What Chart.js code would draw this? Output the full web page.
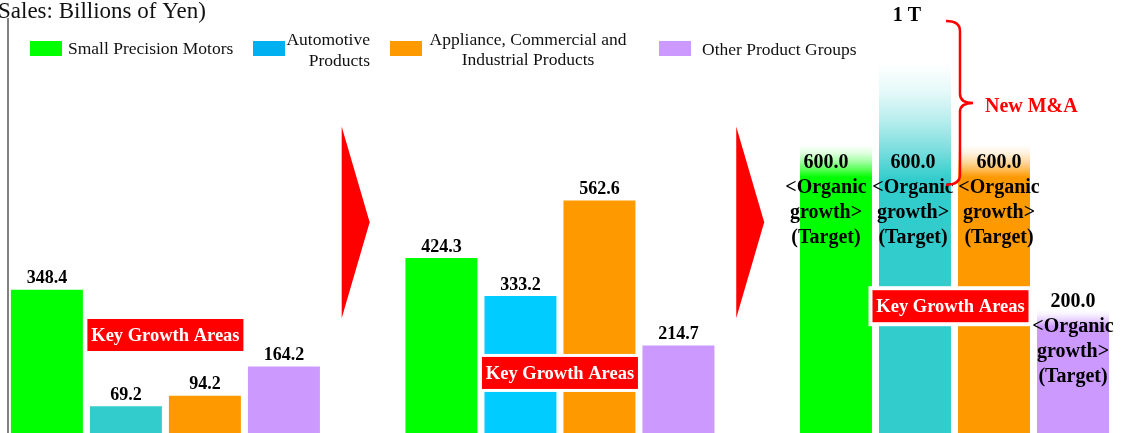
<!DOCTYPE html>
<html>
<head>
<meta charset="utf-8">
<script src="https://cdn.jsdelivr.net/npm/chart.js@4.4.1/dist/chart.umd.min.js"></script>
<style>
  html, body { margin: 0; padding: 0; background: #fff; }
  #wrap { width: 1123px; height: 433px; position: relative; }
</style>
</head>
<body>
<div id="wrap"><canvas id="chart"></canvas></div>
<script>
// Net sales per product group, billions of yen (actual -> plan -> organic target)
const periods = ['Actual', 'Plan', 'Target'];
const seriesNames = ['Small Precision Motors', 'Automotive Products', 'Appliance, Commercial and Industrial Products', 'Other Product Groups'];
const legendLines = [['Small Precision Motors'], ['Automotive', 'Products'], ['Appliance, Commercial and', 'Industrial Products'], ['Other Product Groups']];
const smallMotors = [348.4, 424.3, 600.0];
const automotive = [69.2, 333.2, 600.0];
const appliance = [94.2, 562.6, 600.0];
const otherGroups = [164.2, 214.7, 200.0];
const targetNote = ['<Organic', 'growth>', '(Target)'];
const goalLabel = '1 T';
const goalValue = 1000;
const mnaLabel = 'New M&A';
const calloutText = 'Key Growth Areas';
const axisTitle = '(Net Sales: Billions of Yen)';

const SERIF = '"Liberation Serif", "Times New Roman", serif';
const GREEN = '#00FF00', TEAL = '#33CCCC', SKY = '#00CCFF', ORANGE = '#FF9900', PURPLE = '#CC99FF', RED = '#FF0000';

function rgba(hex, a) {
  const n = parseInt(hex.slice(1), 16);
  return 'rgba(' + (n >> 16) + ',' + ((n >> 8) & 255) + ',' + (n & 255) + ',' + a + ')';
}

function barColor(ds, i) {
  return Array.isArray(ds.backgroundColor) ? ds.backgroundColor[i] : ds.backgroundColor;
}

// faded extension on top of the target bars
const fadePlugin = {
  id: 'fade',
  beforeDatasetsDraw(chart) {
    const ctx = chart.ctx, y = chart.scales.y;
    chart.data.datasets.forEach((ds, d) => {
      const el = chart.getDatasetMeta(d).data[2];
      if (!el || !ds.fadeTo) return;
      const yTop = y.getPixelForValue(ds.fadeTo);
      const yBase = el.y + 0.5;
      const col = barColor(ds, 2);
      const g = ctx.createLinearGradient(0, yBase, 0, yTop);
      const s = ds.fadeSolid;
      g.addColorStop(0, rgba(col, 1));
      g.addColorStop(s, rgba(col, 1));
      [0.25, 0.5, 0.75].forEach(t => g.addColorStop(s + (1 - s) * t, rgba(col, Math.pow(1 - t, 1.5))));
      g.addColorStop(1, rgba(col, 0));
      ctx.save();
      ctx.fillStyle = g;
      ctx.fillRect(el.x - el.width / 2, yTop, el.width, yBase - yTop);
      ctx.restore();
    });
  }
};

const decorPlugin = {
  id: 'decor',
  afterDatasetsDraw(chart) {
    const ctx = chart.ctx, xs = chart.scales.x, ys = chart.scales.y, area = chart.chartArea;
    ctx.save();

    // axis line
    ctx.strokeStyle = '#595959';
    ctx.lineWidth = 1.5;
    ctx.beginPath();
    ctx.moveTo(8, area.top);
    ctx.lineTo(8, area.bottom);
    ctx.stroke();

    // axis title, cut by the left edge
    ctx.font = '23px ' + SERIF;
    ctx.fillStyle = '#111';
    ctx.textBaseline = 'middle';
    ctx.textAlign = 'left';
    ctx.fillText(axisTitle, -2 - ctx.measureText('(Net ').width, 12);

    // legend
    const boxX = [30, 253, 390, 659];
    ctx.font = '17.5px ' + SERIF;
    chart.data.datasets.forEach((ds, d) => {
      ctx.fillStyle = ds.legendColor;
      ctx.fillRect(boxX[d], 41, 32, 15);
    });
    ctx.fillStyle = '#111';
    ctx.textAlign = 'left';
    ctx.fillText(legendLines[0][0], 68, 49);
    ctx.textAlign = 'right';
    ctx.fillText(legendLines[1][0], 370, 40);
    ctx.fillText(legendLines[1][1], 370, 61);
    ctx.textAlign = 'center';
    ctx.fillText(legendLines[2][0], 528, 40);
    ctx.fillText(legendLines[2][1], 528, 60);
    ctx.textAlign = 'left';
    ctx.fillText(legendLines[3][0], 702, 50);

    // arrows between periods
    ctx.fillStyle = RED;
    [0.5, 1.5].forEach(k => {
      const xc = xs.getPixelForValue(k);
      ctx.beginPath();
      ctx.moveTo(xc - 21, ys.getPixelForValue(740));
      ctx.lineTo(xc + 7, ys.getPixelForValue(510));
      ctx.lineTo(xc - 21, ys.getPixelForValue(280));
      ctx.closePath();
      ctx.fill();
    });

    // value labels
    ctx.fillStyle = '#000';
    ctx.textAlign = 'center';
    chart.data.datasets.forEach((ds, d) => {
      const meta = chart.getDatasetMeta(d);
      meta.data.forEach((el, i) => {
        const v = ds.data[i].toFixed(1);
        if (i < 2) {
          ctx.font = 'bold 18px ' + SERIF;
          ctx.fillText(v, el.x, el.y - 11);
        } else {
          ctx.font = 'bold 20px ' + SERIF;
          [v].concat(targetNote).forEach((line, j) => {
            ctx.fillText(line, el.x + ds.noteShift, el.y - ds.noteLift + j * 25);
          });
        }
      });
    });

    // "Key Growth Areas" callouts
    const callouts = [{ p: 0, level: 240, border: 0, dx: 0 }, { p: 1, level: 149, border: 3, dx: 0 }, { p: 2, level: 309, border: 4, dx: -4 }];
    callouts.forEach(c => {
      const a = chart.getDatasetMeta(1).data[c.p], b = chart.getDatasetMeta(2).data[c.p];
      const cx = (a.x + b.x) / 2 + c.dx, cy = ys.getPixelForValue(c.level);
      const w = 156, h = 32;
      if (c.border) {
        ctx.fillStyle = '#fff';
        ctx.fillRect(cx - w / 2 - c.border, cy - h / 2 - c.border, w + 2 * c.border, h + 2 * c.border);
      }
      ctx.fillStyle = RED;
      ctx.fillRect(cx - w / 2, cy - h / 2, w, h);
      ctx.fillStyle = '#fff';
      ctx.font = 'bold 18.5px ' + SERIF;
      ctx.textAlign = 'center';
      ctx.fillText(calloutText, cx, cy + 1);
    });

    // brace for the M&A part up to 1 trillion
    const teal = chart.getDatasetMeta(1).data[2];
    const x0 = teal.x + teal.width / 2 - 5, x1 = x0 + 14, x2 = x0 + 27;
    const top = ys.getPixelForValue(993), bottom = ys.getPixelForValue(600);
    const mid = 103;
    ctx.strokeStyle = RED;
    ctx.lineWidth = 2.5;
    ctx.beginPath();
    ctx.moveTo(x0, top);
    ctx.quadraticCurveTo(x1, top, x1, top + 10);
    ctx.lineTo(x1, mid - 9);
    ctx.quadraticCurveTo(x1, mid, x2, mid);
    ctx.moveTo(x2, mid);
    ctx.quadraticCurveTo(x1, mid, x1, mid + 9);
    ctx.lineTo(x1, bottom - 10);
    ctx.quadraticCurveTo(x1, bottom, x0, bottom);
    ctx.stroke();

    ctx.font = 'bold 20px ' + SERIF;
    ctx.fillStyle = RED;
    ctx.textAlign = 'left';
    ctx.fillText(mnaLabel, x2 + 12, mid + 4);
    ctx.fillStyle = '#000';
    ctx.textAlign = 'center';
    ctx.fillText(goalLabel, teal.x - 8, ys.getPixelForValue(goalValue) - 2);

    ctx.restore();
  }
};

new Chart(document.getElementById('chart'), {
  type: 'bar',
  data: {
    labels: periods,
    datasets: [
      { label: seriesNames[0], data: smallMotors, backgroundColor: GREEN, legendColor: GREEN, fadeTo: 695, fadeSolid: 0.2, noteLift: 22, noteShift: -10 },
      { label: seriesNames[1], data: automotive, backgroundColor: [TEAL, SKY, TEAL], legendColor: '#00B0F0', fadeTo: 892, fadeSolid: 0.05, noteLift: 22, noteShift: -2 },
      { label: seriesNames[2], data: appliance, backgroundColor: ORANGE, legendColor: ORANGE, fadeTo: 695, fadeSolid: 0.2, noteLift: 22, noteShift: 5 },
      { label: seriesNames[3], data: otherGroups, backgroundColor: PURPLE, legendColor: PURPLE, fadeTo: 300, fadeSolid: 0.6, noteLift: 50, noteShift: 0 }
    ]
  },
  options: {
    responsive: true,
    maintainAspectRatio: false,
    animation: false,
    // chart area spans the first to the last period centre (offset off)
    layout: { padding: { top: 18, left: 165.4, right: 168.5, bottom: 0 } },
    datasets: { bar: { categoryPercentage: 0.801, barPercentage: 0.911, borderWidth: 0, clip: false } },
    scales: {
      x: { display: false, offset: false, grid: { offset: false } },
      y: { display: false, min: 5, max: 1000 }
    },
    plugins: {
      legend: { display: false },
      tooltip: { enabled: false }
    }
  },
  plugins: [fadePlugin, decorPlugin]
});
</script>
</body>
</html>
